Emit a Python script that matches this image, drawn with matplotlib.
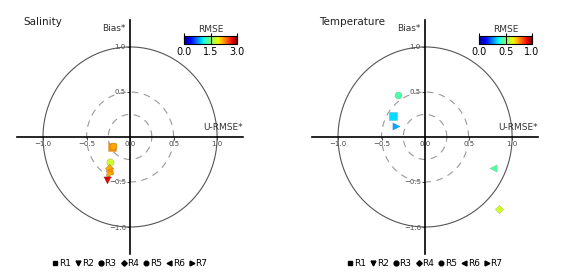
import matplotlib.pyplot as plt
import numpy as np
from matplotlib.lines import Line2D

# run names and their markers
runs = ['R1', 'R2', 'R3', 'R4', 'R5', 'R6', 'R7']
markers = ['s', 'v', 'o', 'D', '8', '<', '>']

# salinity: normalised unbiased RMSE, normalised bias, RMSE
sal_runs = ['R1', 'R5', 'R3', 'R4', 'R6', 'R7', 'R2']
sal_urmse = [-0.21, -0.20, -0.23, -0.24, -0.24, -0.23, -0.26]
sal_bias = [-0.11, -0.10, -0.28, -0.35, -0.38, -0.40, -0.48]
sal_rmse = [2.25, 2.2, 1.8, 2.2, 2.25, 2.2, 2.75]

# temperature
tem_runs = ['R5', 'R1', 'R7', 'R6', 'R4']
tem_urmse = [-0.31, -0.37, -0.33, 0.78, 0.85]
tem_bias = [0.47, 0.23, 0.125, -0.34, -0.80]
tem_rmse = [0.44, 0.34, 0.29, 0.45, 0.60]

panels = [
    ('Salinity', sal_runs, sal_urmse, sal_bias, sal_rmse, 3.0),
    ('Temperature', tem_runs, tem_urmse, tem_bias, tem_rmse, 1.0),
]


def target(ax, cax, title, names, x, y, c, vmax):
    t = np.linspace(0, 2 * np.pi, 300)
    ax.plot(np.cos(t), np.sin(t), color='#555555', lw=0.8)
    for r in (0.25, 0.5):
        ax.plot(r * np.cos(t), r * np.sin(t), color='#999999', lw=0.8,
                ls=(0, (6, 5)))

    mk = dict(zip(runs, markers))
    for n, xi, yi, ci in zip(names, x, y, c):
        size = 18 if mk[n] == 'D' else 28
        sc = ax.scatter([xi], [yi], c=[ci], cmap='jet', vmin=0, vmax=vmax,
                        marker=mk[n], s=size, edgecolors=(0, 0, 0, 0.2),
                        linewidths=0.4, zorder=3)

    ax.set_xlim(-1.3, 1.3)
    ax.set_ylim(-1.3, 1.3)
    for s in ('top', 'right'):
        ax.spines[s].set_visible(False)
    for s in ('left', 'bottom'):
        ax.spines[s].set_position('zero')
        ax.spines[s].set_linewidth(1.2)
    ax.set_xticks([-1.0, -0.5, 0.0, 0.5, 1.0])
    ax.set_yticks([-1.0, -0.5, 0.5, 1.0])
    ax.tick_params(labelsize=5, labelcolor='#444444', length=2, width=0.5,
                   pad=1)

    ax.text(-0.05, 1.2, 'Bias*', ha='right', va='center', fontsize=6.5,
            color='#333333')
    ax.text(1.3, 0.05, 'U-RMSE*', ha='right', va='bottom', fontsize=6.5,
            color='#333333')
    ax.text(0.03, 0.99, title, transform=ax.transAxes, ha='left',
            va='center', fontsize=7.5, color='#222222')

    cb = plt.colorbar(sc, cax=cax, orientation='horizontal')
    cb.set_ticks([0, vmax / 2, vmax])
    cb.ax.tick_params(labelsize=7, direction='in', length=8, width=0.8,
                      pad=2)
    cb.outline.set_linewidth(0.8)
    cax.set_title('RMSE', fontsize=6.5, pad=3, color='#333333')

    handles = [Line2D([], [], ls='', marker=m, color='k',
                      ms=2.8 if m == 'D' else 3.5)
               for m in markers]
    ax.legend(handles, runs, loc='center', bbox_to_anchor=(0.5, -0.04),
              ncol=7, frameon=False, fontsize=6.5, handletextpad=0.1,
              columnspacing=0.5, handlelength=0.6, borderaxespad=0)


fig = plt.figure(figsize=(5.63, 2.77), dpi=100)
ax_pos = [[0.030, 0.083, 0.402, 0.845], [0.554, 0.083, 0.402, 0.845]]
cax_pos = [[0.327, 0.841, 0.094, 0.029], [0.851, 0.841, 0.094, 0.029]]

for p, ap, cp in zip(panels, ax_pos, cax_pos):
    ax = fig.add_axes(ap)
    cax = fig.add_axes(cp)
    target(ax, cax, *p)

fig.savefig('out.png', dpi=100)
